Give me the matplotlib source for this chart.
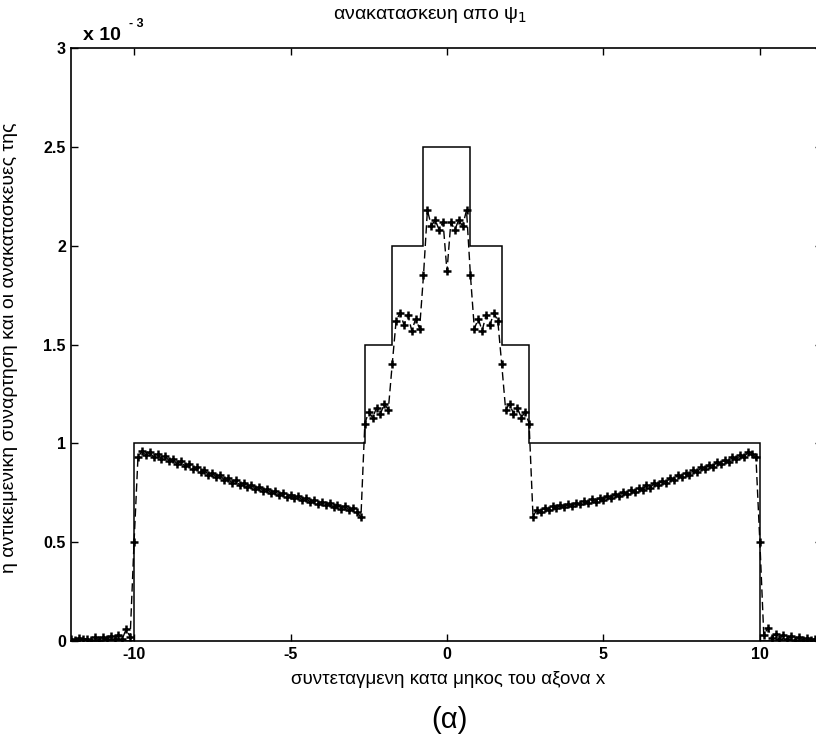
import numpy as np
import matplotlib.pyplot as plt

plt.rcParams['font.family'] = ['Liberation Sans', 'DejaVu Sans']

# object function: piecewise constant (values in units of 1e-3)
step_edges = [-12, -10, -2.625, -1.75, -0.75, 0.75, 1.75, 2.625, 10, 12]
step_levels = [0, 1, 1.5, 2, 2.5, 2, 1.5, 1, 0]

# reconstruction sampled on x = -12 ... 12, dx = 0.125 (one row = one unit of x)
recon = [
    0.010, 0.005, 0.015, 0.008, 0.012, 0.004, 0.018, 0.006,   # -12
    0.020, 0.008, 0.025, 0.010, 0.030, 0.012, 0.060, 0.020,   # -11
    0.500, 0.930, 0.960, 0.940, 0.955, 0.930, 0.945, 0.920,   # -10
    0.935, 0.910, 0.920, 0.895, 0.910, 0.885, 0.895, 0.870,   # -9
    0.880, 0.855, 0.865, 0.840, 0.850, 0.830, 0.840, 0.815,   # -8
    0.825, 0.800, 0.815, 0.790, 0.800, 0.780, 0.790, 0.770,   # -7
    0.780, 0.760, 0.770, 0.750, 0.760, 0.740, 0.750, 0.730,   # -6
    0.740, 0.722, 0.732, 0.712, 0.722, 0.703, 0.713, 0.695,   # -5
    0.705, 0.686, 0.696, 0.678, 0.690, 0.670, 0.682, 0.662,   # -4
    0.672, 0.655, 0.625, 1.100, 1.160, 1.130, 1.180, 1.150,   # -3
    1.200, 1.170, 1.400, 1.620, 1.660, 1.600, 1.650, 1.570,   # -2
    1.630, 1.580, 1.850, 2.180, 2.100, 2.130, 2.080, 2.120,   # -1
    1.870, 2.120, 2.080, 2.130, 2.100, 2.180, 1.850, 1.580,   # 0
    1.630, 1.570, 1.650, 1.600, 1.660, 1.620, 1.400, 1.170,   # 1
    1.200, 1.150, 1.180, 1.130, 1.160, 1.100, 0.630, 0.665,   # 2
    0.655, 0.675, 0.665, 0.682, 0.672, 0.688, 0.678, 0.695,   # 3
    0.685, 0.700, 0.692, 0.710, 0.698, 0.718, 0.705, 0.725,   # 4
    0.712, 0.735, 0.722, 0.745, 0.732, 0.752, 0.742, 0.765,   # 5
    0.752, 0.775, 0.765, 0.790, 0.775, 0.800, 0.790, 0.812,   # 6
    0.800, 0.825, 0.815, 0.838, 0.828, 0.852, 0.840, 0.865,   # 7
    0.855, 0.878, 0.868, 0.892, 0.882, 0.905, 0.895, 0.918,   # 8
    0.908, 0.930, 0.920, 0.940, 0.932, 0.955, 0.945, 0.930,   # 9
    0.500, 0.030, 0.065, 0.015, 0.035, 0.010, 0.030, 0.008,   # 10
    0.025, 0.006, 0.020, 0.005, 0.015, 0.004, 0.012, 0.003,   # 11
    0.010,                                                    # 12
]
x_recon = np.linspace(-12, 12, len(recon))

x_ticks = [-10, -5, 0, 5, 10]
y_ticks = [0, 0.5, 1, 1.5, 2, 2.5, 3]
y_ticklabels = ['0', '0.5', '1', '1.5', '2', '2.5', '3']

fig = plt.figure(figsize=(8.16, 7.38), dpi=100)
ax = fig.add_axes([0.0876, 0.1314, 0.9203, 0.8035])

ax.stairs(step_levels, step_edges, color='k', lw=1.1)
ax.plot(x_recon, recon, color='k', lw=1.0, ls=(0, (6, 3)),
        marker='+', ms=5.5, mew=1.8)

ax.set_xlim(-12, 12)
ax.set_ylim(0, 3)
ax.set_xticks(x_ticks)
ax.set_xticklabels([str(t) for t in x_ticks])
ax.set_yticks(y_ticks)
ax.set_yticklabels(y_ticklabels)
ax.tick_params(direction='in', top=True, right=True, length=5, width=1,
               labelsize=11.5, pad=4)
for lab in ax.get_xticklabels() + ax.get_yticklabels():
    lab.set_fontweight('bold')
for sp in ax.spines.values():
    sp.set_linewidth(1.2)

# exponent note above the y axis
fig.text(83 / 816, 1 - 35 / 738, 'x 10', fontsize=14, fontweight='bold',
         ha='left', va='center')
fig.text(129 / 816, 1 - 24 / 738, '- 3', fontsize=9, fontweight='bold',
         ha='left', va='center')

fig.text(430 / 816, 1 - 15 / 738, 'ανακατασκευη απο ψ$_1$', fontsize=14,
         ha='center', va='center')
fig.text(448 / 816, 1 - 680 / 738, 'συντεταγμενη κατα μηκος του αξονα x',
         fontsize=13.5, ha='center', va='center')
fig.text(10 / 816, 1 - 348 / 738,
         'η αντικειμενικη συναρτηση και οι ανακατασκευες της',
         fontsize=14, rotation=90, ha='center', va='center')
fig.text(449 / 816, 1 - 720 / 738, '(α)', fontsize=21, ha='center', va='center')

fig.savefig('out.png', dpi=100)
